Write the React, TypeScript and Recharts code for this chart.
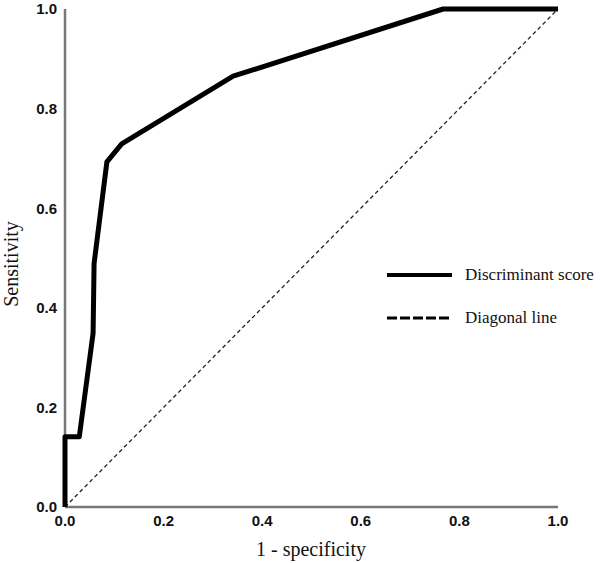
import React from 'react'
import { LineChart, Line, XAxis, YAxis } from 'recharts'

// ROC curve points (1 - specificity, sensitivity)
const rocFpr = [0, 0, 0.029, 0.057, 0.059, 0.085, 0.115, 0.341, 0.767, 1]
const rocTpr = [0, 0.141, 0.141, 0.349, 0.489, 0.693, 0.729, 0.865, 1, 1]

// reference diagonal
const diagFpr = [0, 1]
const diagTpr = [0, 1]

const axisTicks = [0, 0.2, 0.4, 0.6, 0.8, 1.0]

const rocData = rocFpr.map((x, i) => ({ x, y: rocTpr[i] }))
const diagData = diagFpr.map((x, i) => ({ x, y: diagTpr[i] }))

const serif = '"Liberation Serif", "Times New Roman", serif'
const tickStyle = { fontFamily: '"Liberation Sans", Arial, sans-serif', fontWeight: 700, fontSize: 15, fill: '#111' }

function LegendBox(): React.ReactElement {
  const row = (dash: string | undefined, width: number, label: string) => (
    <div style={{ display: 'flex', alignItems: 'center', height: 22, marginBottom: 21 }}>
      <svg width={65} height={10} style={{ display: 'block' }}>
        <line x1={0} x2={65} y1={5} y2={5} stroke="#000" strokeWidth={width} strokeDasharray={dash} />
      </svg>
      <span style={{ marginLeft: 13, fontFamily: serif, fontSize: 17, color: '#111', whiteSpace: 'nowrap' }}>{label}</span>
    </div>
  )
  return (
    <div style={{ position: 'absolute', left: 387, top: 264 }}>
      {row(undefined, 4, 'Discriminant score')}
      {row('10 3', 3, 'Diagonal line')}
    </div>
  )
}

export default function App(): React.ReactElement {
  return (
    <div style={{ position: 'absolute', left: 0, top: 0, width: 600, height: 563, background: '#fff' }}>
      <LineChart width={600} height={563} margin={{ top: 9, right: 42, left: 0, bottom: 0 }}>
        <XAxis
          dataKey="x"
          type="number"
          domain={[0, 1]}
          ticks={axisTicks}
          tickFormatter={(v: number) => v.toFixed(1)}
          tickLine={false}
          axisLine={{ stroke: '#777', strokeWidth: 2.5 }}
          tick={tickStyle}
          height={56}
          allowDuplicatedCategory={false}
        />
        <YAxis
          type="number"
          domain={[0, 1]}
          ticks={axisTicks}
          tickFormatter={(v: number) => v.toFixed(1)}
          tickLine={false}
          axisLine={{ stroke: '#777', strokeWidth: 2.5 }}
          tick={tickStyle}
          width={65}
        />
        <Line
          data={diagData}
          dataKey="y"
          stroke="#222"
          strokeWidth={1.3}
          strokeDasharray="4 3"
          dot={false}
          activeDot={false}
          isAnimationActive={false}
          zIndex={600}
        />
        <Line
          data={rocData}
          dataKey="y"
          stroke="#000"
          strokeWidth={5}
          strokeLinejoin="round"
          dot={false}
          activeDot={false}
          isAnimationActive={false}
          zIndex={700}
        />
        <text x={311} y={556} textAnchor="middle" fontFamily={serif} fontSize={20} fill="#111">
          1 - specificity
        </text>
        <text transform="translate(18,264) rotate(-90)" textAnchor="middle" fontFamily={serif} fontSize={20} fill="#111">
          Sensitivity
        </text>
      </LineChart>
      <LegendBox />
    </div>
  )
}
